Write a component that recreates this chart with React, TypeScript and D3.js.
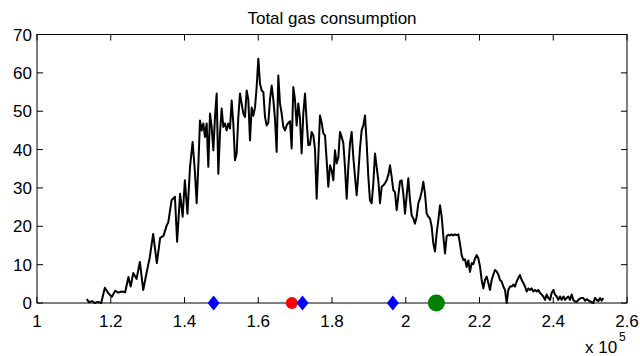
import React from 'react';
import * as d3 from 'd3';

// gas consumption in thousands (axis shows x 10^5)
const binCenters = [
  113.5, 114.1, 114.9, 115.7, 116.5, 117.4, 118.4, 119.3, 120.3, 121.2,
  122.0, 123.0, 123.9, 124.8, 125.4, 126.1, 127.0, 127.9, 128.8, 129.7,
  130.6, 131.5, 132.5, 133.4, 134.3, 135.2, 135.6, 136.5, 137.4, 138.0,
  138.8, 139.5, 140.1, 140.8, 141.5, 142.2, 142.8, 143.3, 143.8,
  144.20, 144.65, 145.10, 145.56, 146.01, 146.46, 146.91, 147.36, 147.82, 148.27,
  148.72, 149.17, 149.62, 150.08, 150.53, 150.98, 151.43, 151.88, 152.34, 152.79,
  153.24, 153.69, 154.14, 154.60, 155.05, 155.50, 155.95, 156.40, 156.86, 157.31,
  157.76, 158.21, 158.66, 159.12, 159.57, 160.02, 160.47, 160.92, 161.38, 161.83,
  162.28, 162.73, 163.18, 163.64, 164.09, 164.54, 164.99, 165.44, 165.90, 166.35,
  166.80, 167.25, 167.70, 168.16, 168.61, 169.06, 169.51, 169.96, 170.42, 170.87,
  171.32, 171.77, 172.22, 172.68, 173.13, 173.58, 174.03, 174.48, 174.94, 175.39,
  175.84, 176.29, 176.74, 177.20, 177.65, 178.10, 178.55, 179.00, 179.46, 179.91,
  180.36, 180.81, 181.26, 181.72, 182.17, 182.62, 183.07, 183.52, 183.98, 184.43,
  184.88, 185.33, 185.78, 186.24, 186.69, 187.14, 187.59, 188.04, 188.50, 188.95,
  189.40, 189.85, 190.30, 190.76, 191.21, 191.66, 192.11, 192.56, 193.02, 193.47,
  193.92, 194.37, 194.82, 195.28, 195.73, 196.18, 196.63, 197.08, 197.54, 197.99,
  198.44, 198.89, 199.34, 199.80, 200.25, 200.70, 201.15, 201.60, 202.06, 202.51,
  202.96, 203.41, 203.86, 204.32, 204.77, 205.22, 205.67, 206.12, 206.58, 207.03,
  207.48, 207.93, 208.38, 208.84, 209.29, 209.74, 210.19, 210.64, 211.10, 211.55,
  212.00, 212.45, 212.90, 213.36, 213.81, 214.26, 214.71, 215.16, 215.62, 216.07,
  216.52, 216.97, 217.42, 217.88, 218.33, 218.78, 219.23, 219.68, 220.14, 220.59,
  221.04, 221.49, 221.94, 222.40, 222.85, 223.30, 223.75, 224.20, 224.66, 225.11,
  225.56, 226.01, 226.46, 226.92, 227.37, 227.82, 228.27, 228.72, 229.18, 229.63,
  230.08, 230.53, 230.98, 231.44, 231.89, 232.34, 232.79, 233.24, 233.70, 234.15,
  234.60, 235.05, 235.50, 235.96, 236.41, 236.86, 237.31, 237.76, 238.22, 238.67,
  239.12, 239.57, 240.02, 240.48, 240.93, 241.38, 241.83, 242.28, 242.74, 243.19,
  243.64, 244.09, 244.54, 245.00, 245.45, 245.90, 246.35, 246.80, 247.26, 247.71,
  248.16, 248.61, 249.06, 249.52, 249.97, 250.42, 250.87, 251.32, 251.78, 252.23,
  252.68, 253.13, 253.58
];

const counts = [
  1.0, 0.2, 0.5, 0, 0.3, 0, 4.0, 2.6, 1.6, 3.2,
  2.7, 3.0, 2.8, 6.8, 4.3, 7.8, 6.3, 10.7, 3.4, 7.8,
  12.0, 18.0, 10.4, 17.0, 17.5, 20.3, 21.0, 26.8, 27.7, 16.0,
  28.5, 22.5, 32.0, 23.3, 35.5, 42.0, 34.6, 26.0, 37.0,
  47.6, 45, 46.8, 43.3, 46.8, 35.5, 49.4, 45.9, 39.8, 48.5,
  54.6, 33.7, 44.2, 50.7, 45.9, 46.8, 45, 46.8, 45.5, 52.8,
  46.8, 37.2, 39, 48.5, 54.6, 52, 49.4, 48.5, 55.4, 53,
  42.4, 51, 48.8, 51, 56.3, 63.7, 57.2, 55.4, 55, 48.5,
  46.3, 47, 53, 56.7, 53, 48, 39.4, 59.3, 52, 49.4,
  45.9, 45, 46.3, 47, 47.4, 40.3, 56.3, 53, 46.3, 52,
  48, 39, 49.4, 54.6, 47.4, 41.1, 41.3, 44.6, 43.7, 40,
  27.2, 38, 48.9, 47, 44.2, 43.7, 37.2, 30.3, 35.9, 34.6,
  32, 39.8, 36.4, 38, 44.6, 43.3, 41.7, 35.5, 27.2, 35.5,
  41.6, 44.6, 38, 32.9, 28.1, 33.8, 40.3, 45, 46.3, 48.9,
  41.7, 32.9, 26.8, 26, 31.2, 39, 35.5, 32, 26, 30.3,
  30.7, 31.2, 32, 33.4, 35.9, 32.9, 29.4, 28.9, 24.2, 28,
  31.7, 32, 28.5, 23.3, 28, 32.5, 26.8, 22.9, 22, 20.7,
  22.5, 26, 27.2, 29, 31.6, 28.5, 23.3, 22.5, 22, 19.9,
  15.5, 13.4, 18.2, 21.6, 25.5, 22.5, 17.4, 12.9, 17.4, 17.8,
  17.6, 17.9, 17.6, 17.9, 17.7, 17.9, 15.5, 12.5, 11.2, 11.4,
  9.4, 11.1, 8.1, 10.4, 10.1, 11.6, 12.5, 11.6, 9.5, 6,
  3.8, 6, 6.9, 5.2, 3.4, 6, 7.4, 8.6, 8.2, 7.4,
  6, 5.6, 4.3, 3.4, 0, 3.4, 4.3, 4.3, 4.8, 4.3,
  5.6, 6.5, 7.3, 6, 5.2, 4.3, 3, 3.8, 3.4, 3.8,
  3, 3.4, 3, 3.4, 2.6, 2.2, 1.7, 0.8, 2.2, 1.3,
  0.8, 2.6, 3.4, 2.2, 1.7, 0.8, 1.7, 0.8, 1.7, 0.8,
  1.3, 1.7, 0.8, 2.2, 0.8, 0.4, 0.3, 0.8, 1.2, 1.3,
  1.3, 0.6, 1, 0.7, 0.4, 0.2, 0, 1.3, 0.8, 0.5,
  1.3, 0.6, 1.3
];

const diamondMarks = [147.9, 172.0, 196.5];
const redMark = 169.1;
const greenMark = 208.3;

const xTicks = [100, 120, 140, 160, 180, 200, 220, 240, 260];
const xTickLabels = ['1', '1.2', '1.4', '1.6', '1.8', '2', '2.2', '2.4', '2.6'];
const yTicks = [0, 10, 20, 30, 40, 50, 60, 70];

const title = 'Total gas consumption';

const App = () => {
  const width = 640, height = 356;
  const left = 37, right = 627, top = 34.5, bottom = 303;
  const font = '"Liberation Sans", Arial, Helvetica, sans-serif';
  const tick = 6;
  const fs = 17;

  const x = d3.scaleLinear().domain([100, 260]).range([left, right]);
  const y = d3.scaleLinear().domain([0, 70]).range([bottom, top]);

  const line = d3.line<number>()
    .x((d, i) => x(binCenters[i]))
    .y(d => y(d));

  const diamond = (cx: number, cy: number) =>
    `M${cx},${cy - 7.5}L${cx + 6},${cy}L${cx},${cy + 7.5}L${cx - 6},${cy}Z`;

  return (
    <svg width={width} height={height}
      style={{ position: 'absolute', left: 0, top: 0, background: '#fff' }}
      fontFamily={font}>
      <rect x={0} y={0} width={width} height={height} fill="#fff" />
      <text x={(left + right) / 2} y={24} textAnchor="middle" fontSize={fs} fill="#000">{title}</text>

      <path d={line(counts) || ''} fill="none" stroke="#000" strokeWidth={2} strokeLinejoin="round" />

      <rect x={left} y={top} width={right - left} height={bottom - top} fill="none" stroke="#000" strokeWidth={1} />

      {xTicks.map((t, i) => (
        <g key={'x' + i}>
          <line x1={x(t)} x2={x(t)} y1={bottom} y2={bottom - tick} stroke="#000" />
          <line x1={x(t)} x2={x(t)} y1={top} y2={top + tick} stroke="#000" />
          <text x={x(t)} y={bottom + 24} textAnchor="middle" fontSize={fs} fill="#000">{xTickLabels[i]}</text>
        </g>
      ))}
      {yTicks.map((t, i) => (
        <g key={'y' + i}>
          <line x1={left} x2={left + tick} y1={y(t)} y2={y(t)} stroke="#000" />
          <line x1={right} x2={right - tick} y1={y(t)} y2={y(t)} stroke="#000" />
          <text x={left - 5} y={y(t) + 6} textAnchor="end" fontSize={fs} fill="#000">{t}</text>
        </g>
      ))}

      <circle cx={x(redMark)} cy={y(0)} r={6} fill="#ff0000" />
      {diamondMarks.map((d, i) => (
        <path key={'d' + i} d={diamond(x(d), y(0))} fill="#0000ff" />
      ))}
      <circle cx={x(greenMark)} cy={y(0)} r={8.5} fill="#008000" />

      <text x={585} y={353} fontSize={fs} fill="#000">x 10</text>
      <text x={619} y={341} fontSize={12} fill="#000">5</text>
    </svg>
  );
};

export default App;
